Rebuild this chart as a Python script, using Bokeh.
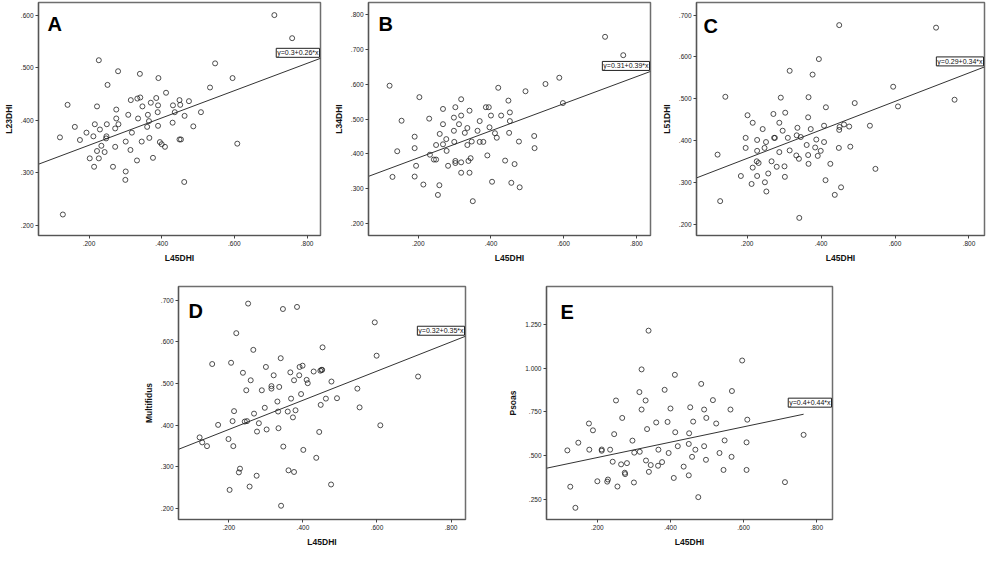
from bokeh.plotting import figure
from bokeh.layouts import column, row
from bokeh.models import FixedTicker, CustomJSTickFormatter, Label, Spacer, Range1d
from bokeh.embed import file_html
from bokeh.resources import INLINE

# ---------------- data ----------------
x_ticks = [0.2, 0.4, 0.6, 0.8]

# Panel A: L23DHI vs L45DHI
xA = [0.710, 0.759, 0.227, 0.547, 0.280, 0.340, 0.251, 0.391, 0.595, 0.533, 0.412, 0.333, 0.341, 0.315, 0.385,
      0.449, 0.475, 0.370, 0.141, 0.222, 0.347, 0.390, 0.431, 0.451, 0.275, 0.508, 0.389, 0.436, 0.308, 0.362,
      0.463, 0.275, 0.335, 0.365, 0.216, 0.249, 0.281, 0.430, 0.161, 0.487, 0.360, 0.390, 0.230, 0.272, 0.120,
      0.193, 0.212, 0.248, 0.318, 0.247, 0.175, 0.301, 0.345, 0.366, 0.395, 0.400, 0.409, 0.449, 0.453, 0.608,
      0.234, 0.272, 0.314, 0.222, 0.243, 0.202, 0.227, 0.376, 0.332, 0.214, 0.266, 0.301, 0.300, 0.462, 0.128]
yA = [0.600, 0.556, 0.514, 0.508, 0.493, 0.488, 0.467, 0.480, 0.480, 0.462, 0.452, 0.441, 0.443, 0.438, 0.442,
      0.438, 0.436, 0.433, 0.429, 0.426, 0.426, 0.428, 0.428, 0.429, 0.420, 0.415, 0.415, 0.415, 0.410, 0.410,
      0.408, 0.403, 0.403, 0.398, 0.392, 0.392, 0.392, 0.395, 0.387, 0.388, 0.387, 0.389, 0.382, 0.384, 0.367,
      0.376, 0.369, 0.369, 0.376, 0.365, 0.362, 0.359, 0.359, 0.366, 0.358, 0.354, 0.349, 0.363, 0.363, 0.355,
      0.351, 0.349, 0.343, 0.341, 0.339, 0.327, 0.327, 0.328, 0.323, 0.311, 0.311, 0.302, 0.286, 0.282, 0.220]

# Panel B: L34DHI vs L45DHI
xB = [0.714, 0.764, 0.588, 0.550, 0.121, 0.420, 0.495, 0.203, 0.318, 0.448, 0.598, 0.268, 0.302, 0.386, 0.394,
      0.341, 0.452, 0.298, 0.318, 0.400, 0.428, 0.154, 0.230, 0.369, 0.452, 0.268, 0.312, 0.259, 0.335, 0.396,
      0.298, 0.363, 0.328, 0.411, 0.450, 0.190, 0.416, 0.519, 0.277, 0.299, 0.249, 0.268, 0.335, 0.347, 0.369,
      0.379, 0.477, 0.190, 0.520, 0.278, 0.142, 0.232, 0.390, 0.344, 0.243, 0.249, 0.302, 0.338, 0.439, 0.302,
      0.318, 0.194, 0.282, 0.465, 0.318, 0.341, 0.129, 0.190, 0.214, 0.258, 0.403, 0.456, 0.479, 0.254, 0.350]
yB = [0.737, 0.684, 0.619, 0.601, 0.596, 0.590, 0.580, 0.563, 0.557, 0.553, 0.546, 0.529, 0.534, 0.534, 0.534,
      0.524, 0.519, 0.504, 0.510, 0.510, 0.510, 0.495, 0.501, 0.494, 0.494, 0.485, 0.485, 0.457, 0.474, 0.476,
      0.466, 0.466, 0.460, 0.459, 0.460, 0.449, 0.446, 0.451, 0.442, 0.434, 0.425, 0.427, 0.425, 0.435, 0.434,
      0.434, 0.435, 0.416, 0.416, 0.408, 0.407, 0.397, 0.395, 0.387, 0.383, 0.383, 0.379, 0.379, 0.380, 0.373,
      0.375, 0.365, 0.365, 0.370, 0.345, 0.345, 0.333, 0.334, 0.311, 0.309, 0.319, 0.316, 0.303, 0.281, 0.263]

# Panel C: L51DHI vs L45DHI
xC = [0.449, 0.711, 0.394, 0.315, 0.377, 0.761, 0.141, 0.291, 0.366, 0.595, 0.608, 0.413, 0.491, 0.201, 0.271,
      0.303, 0.365, 0.215, 0.287, 0.462, 0.476, 0.532, 0.408, 0.450, 0.449, 0.336, 0.242, 0.372, 0.296, 0.196,
      0.273, 0.275, 0.310, 0.334, 0.345, 0.227, 0.251, 0.387, 0.408, 0.361, 0.196, 0.247, 0.384, 0.448, 0.479,
      0.120, 0.227, 0.287, 0.315, 0.399, 0.333, 0.365, 0.391, 0.340, 0.226, 0.266, 0.231, 0.366, 0.425, 0.215,
      0.280, 0.301, 0.257, 0.547, 0.227, 0.183, 0.302, 0.412, 0.212, 0.248, 0.252, 0.454, 0.437, 0.127, 0.341]
yC = [0.676, 0.670, 0.595, 0.567, 0.558, 0.498, 0.505, 0.503, 0.504, 0.529, 0.482, 0.480, 0.490, 0.461, 0.464,
      0.467, 0.456, 0.443, 0.443, 0.439, 0.434, 0.436, 0.436, 0.433, 0.426, 0.431, 0.428, 0.428, 0.424, 0.407,
      0.407, 0.407, 0.407, 0.413, 0.409, 0.402, 0.397, 0.403, 0.397, 0.390, 0.383, 0.383, 0.384, 0.383, 0.386,
      0.367, 0.376, 0.373, 0.377, 0.376, 0.365, 0.366, 0.364, 0.357, 0.351, 0.351, 0.347, 0.345, 0.345, 0.336,
      0.338, 0.339, 0.322, 0.333, 0.316, 0.316, 0.314, 0.306, 0.297, 0.301, 0.279, 0.289, 0.271, 0.256, 0.216]

# Panel D: Multifidus vs L45DHI
xD = [0.252, 0.346, 0.384, 0.594, 0.220, 0.453, 0.266, 0.599, 0.340, 0.155, 0.206, 0.399, 0.391, 0.300, 0.450,
      0.452, 0.447, 0.429, 0.366, 0.238, 0.321, 0.390, 0.711, 0.259, 0.376, 0.410, 0.413, 0.477, 0.315, 0.336,
      0.315, 0.547, 0.247, 0.289, 0.395, 0.368, 0.462, 0.492, 0.553, 0.331, 0.448, 0.297, 0.214, 0.333, 0.380,
      0.359, 0.268, 0.373, 0.171, 0.210, 0.243, 0.249, 0.281, 0.609, 0.276, 0.302, 0.334, 0.444, 0.121, 0.128,
      0.141, 0.199, 0.212, 0.347, 0.401, 0.436, 0.230, 0.227, 0.361, 0.376, 0.275, 0.256, 0.476, 0.202, 0.341]
yD = [0.692, 0.679, 0.684, 0.647, 0.621, 0.587, 0.581, 0.567, 0.561, 0.547, 0.550, 0.543, 0.540, 0.540, 0.533,
      0.533, 0.531, 0.529, 0.527, 0.526, 0.520, 0.520, 0.517, 0.508, 0.508, 0.509, 0.501, 0.505, 0.494, 0.492,
      0.488, 0.488, 0.484, 0.484, 0.475, 0.464, 0.464, 0.465, 0.443, 0.457, 0.449, 0.442, 0.434, 0.433, 0.436,
      0.433, 0.428, 0.419, 0.401, 0.410, 0.409, 0.410, 0.405, 0.400, 0.385, 0.390, 0.393, 0.384, 0.371, 0.359,
      0.350, 0.367, 0.350, 0.349, 0.341, 0.322, 0.296, 0.287, 0.292, 0.288, 0.279, 0.253, 0.258, 0.245, 0.207]

# Panel E: Psoas vs L45DHI
xE = [0.340, 0.596, 0.321, 0.412, 0.484, 0.384, 0.315, 0.568, 0.251, 0.332, 0.516, 0.454, 0.400, 0.321, 0.492,
      0.564, 0.268, 0.498, 0.610, 0.462, 0.392, 0.361, 0.177, 0.525, 0.188, 0.336, 0.413, 0.451, 0.246, 0.764,
      0.148, 0.296, 0.548, 0.608, 0.450, 0.420, 0.492, 0.118, 0.178, 0.212, 0.212, 0.235, 0.316, 0.301, 0.367,
      0.468, 0.395, 0.534, 0.459, 0.567, 0.497, 0.333, 0.242, 0.377, 0.281, 0.265, 0.346, 0.366, 0.436, 0.545,
      0.608, 0.341, 0.275, 0.276, 0.450, 0.409, 0.229, 0.200, 0.227, 0.300, 0.713, 0.126, 0.255, 0.476, 0.140]
yE = [1.215, 1.044, 0.993, 0.962, 0.910, 0.876, 0.863, 0.869, 0.815, 0.815, 0.817, 0.776, 0.769, 0.763, 0.763,
      0.763, 0.715, 0.715, 0.705, 0.694, 0.692, 0.689, 0.683, 0.683, 0.644, 0.651, 0.633, 0.627, 0.622, 0.618,
      0.573, 0.585, 0.586, 0.575, 0.566, 0.553, 0.553, 0.529, 0.533, 0.534, 0.527, 0.533, 0.521, 0.516, 0.533,
      0.533, 0.514, 0.514, 0.492, 0.492, 0.475, 0.471, 0.464, 0.462, 0.456, 0.449, 0.445, 0.441, 0.436, 0.417,
      0.417, 0.406, 0.401, 0.393, 0.386, 0.371, 0.362, 0.352, 0.350, 0.345, 0.347, 0.321, 0.322, 0.261, 0.200]

FONT = "Liberation Sans"
fmt_code = "var s = tick.toFixed(3); return s.replace(/^0\\./, '.');"


def make_panel(letter, xs, ys, ylabel, xr, yr, yticks, a, b, eq, w, h, bl, br, bt, bb,
               letter_dx, letter_dy, line_to_data=False):
    p = figure(width=w, height=h, x_range=Range1d(*xr), y_range=Range1d(*yr),
               output_backend="svg", toolbar_location=None, title=None,
               min_border_left=bl, min_border_right=br, min_border_top=bt, min_border_bottom=bb)
    p.background_fill_color = "white"
    p.border_fill_color = "white"
    p.outline_line_color = "#6e6e6e"
    p.outline_line_width = 1.5
    p.xgrid.visible = False
    p.ygrid.visible = False

    p.xaxis.ticker = FixedTicker(ticks=x_ticks)
    p.yaxis.ticker = FixedTicker(ticks=yticks)
    for ax in (p.xaxis[0], p.yaxis[0]):
        ax.formatter = CustomJSTickFormatter(code=fmt_code)
        ax.minor_tick_line_color = None
        ax.major_tick_in = 0
        ax.major_tick_out = 3
        ax.major_tick_line_color = "#444444"
        ax.axis_line_color = "#555555"
        ax.axis_line_width = 1.2
        ax.major_label_text_font = FONT
        ax.major_label_text_font_size = "6.5px"
        ax.major_label_text_color = "#222222"
        ax.major_label_standoff = 2
        ax.axis_label_text_font = FONT
        ax.axis_label_text_font_size = "8.5px"
        ax.axis_label_text_font_style = "bold"
        ax.axis_label_text_color = "#111111"
        ax.axis_label_standoff = 4
    p.xaxis.axis_label = "L45DHI"
    p.yaxis.axis_label = ylabel

    # fit line
    x0 = xr[0]
    x1 = max(xs) if line_to_data else xr[1]
    p.line([x0, x1], [a + b * x0, a + b * x1], line_color="#333333", line_width=1.0)

    # data points
    p.scatter(xs, ys, marker="circle", size=5, fill_color=None, line_color="#222222", line_width=0.8)

    # equation box
    p.add_layout(Label(x=xr[1], y=a + b * xr[1], text=eq, text_font=FONT, text_font_size="7px",
                       text_color="#111111", text_align="right", text_baseline="bottom",
                       x_offset=-1, y_offset=1, border_line_color="#222222", border_line_width=1,
                       background_fill_color="white", background_fill_alpha=1.0, padding=1))

    # panel letter
    p.add_layout(Label(x=xr[0], y=yr[1], text=letter, text_font=FONT, text_font_size="20px",
                       text_font_style="bold", text_color="black", text_align="left",
                       text_baseline="top", x_offset=letter_dx, y_offset=-letter_dy))
    return p


pA = make_panel("A", xA, yA, "L23DHI", (0.061, 0.837), (0.180, 0.624),
                [0.2, 0.3, 0.4, 0.5, 0.6], 0.3, 0.26, "y=0.3+0.26*x",
                330, 270, 29, 10, 2, 35, 9, 10)
pB = make_panel("B", xB, yB, "L34DHI", (0.063, 0.839), (0.164, 0.836),
                [0.2, 0.3, 0.4, 0.5, 0.6, 0.7, 0.8], 0.31, 0.39, "y=0.31+0.39*x",
                328, 270, 30, 8, 2, 35, 10, 10)
pC = make_panel("C", xC, yC, "L51DHI", (0.063, 0.842), (0.174, 0.730),
                [0.2, 0.3, 0.4, 0.5, 0.6, 0.7], 0.29, 0.34, "y=0.29+0.34*x",
                329, 270, 35, 3, 2, 35, 7, 12)
pD = make_panel("D", xD, yD, "Multifidus", (0.064, 0.839), (0.174, 0.733),
                [0.2, 0.3, 0.4, 0.5, 0.6, 0.7], 0.32, 0.35, "y=0.32+0.35*x",
                365, 279, 34, 40, 16, 30, 10, 13)
pE = make_panel("E", xE, yE, "Psoas", (0.061, 0.843), (0.133, 1.468),
                [0.25, 0.5, 0.75, 1.0, 1.25], 0.4, 0.44, "y=0.4+0.44*x",
                332, 279, 39, 5, 16, 30, 14, 14, line_to_data=True)

layout = column(row(pA, pB, pC), row(Spacer(width=140, height=279), pD, pE))

open("out.html", "w").write(file_html(layout, INLINE))
